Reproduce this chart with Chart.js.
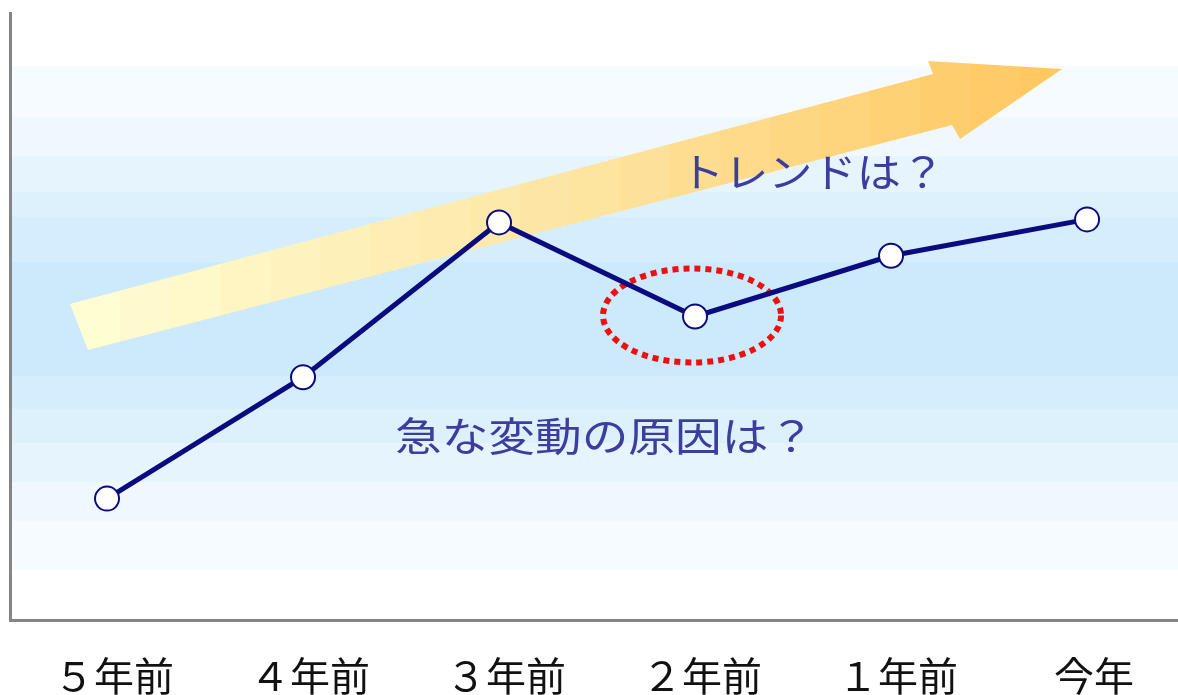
<!DOCTYPE html>
<html>
<head>
<meta charset="utf-8">
<script src="https://cdn.jsdelivr.net/npm/chart.js@4.4.0/dist/chart.umd.min.js"></script>
<style>
  html, body { margin: 0; padding: 0; background: #fff; }
  #wrap { width: 1178px; height: 695px; }
</style>
</head>
<body>
<div id="wrap"><canvas id="grafica" width="1178" height="695"></canvas></div>
<script>
// 年ごとの値
const etiquetas = ['５年前', '４年前', '３年前', '２年前', '１年前', '今年'];
const valores = [20, 40, 65.5, 50, 60, 66];
const posiciones = [0, 1, 2, 3, 4, 5];

const textoTendencia = 'トレンドは？';
const textoCambio = '急な変動の原因は？';

// fondo en franjas (de arriba hacia abajo)
const franjas = [
  [66, 117, '#f5fbff'], [117, 156, '#eef8fe'], [156, 192, '#e6f4fd'],
  [192, 217, '#ddf1fd'], [217, 262, '#d5edfc'], [262, 376, '#cdeafd'],
  [376, 409, '#d5edfc'], [409, 443, '#ddf1fd'], [443, 482, '#e6f4fd'],
  [482, 521, '#eef8fe'], [521, 570, '#f5fbff']
];

function mezcla(a, b, t) {
  const pa = [parseInt(a.substr(1, 2), 16), parseInt(a.substr(3, 2), 16), parseInt(a.substr(5, 2), 16)];
  const pb = [parseInt(b.substr(1, 2), 16), parseInt(b.substr(3, 2), 16), parseInt(b.substr(5, 2), 16)];
  const r = pa.map((v, i) => Math.round(v + (pb[i] - v) * t));
  return 'rgb(' + r.join(',') + ')';
}

const fondo = {
  id: 'fondo',
  beforeDatasetsDraw(chart) {
    const ctx = chart.ctx;
    const a = chart.chartArea;
    ctx.save();
    franjas.forEach(f => {
      ctx.fillStyle = f[2];
      ctx.fillRect(a.left + 2, f[0], a.right - a.left, f[1] - f[0]);
    });

    // flecha de tendencia
    ctx.beginPath();
    ctx.moveTo(70, 304);
    ctx.lineTo(933, 74);
    ctx.lineTo(928, 61);
    ctx.lineTo(1062, 69);
    ctx.lineTo(960, 139);
    ctx.lineTo(952, 125);
    ctx.lineTo(88, 350);
    ctx.closePath();
    ctx.clip();
    const x0 = 70, x1 = 1062, paso = 50;
    for (let x = x0; x < x1; x += paso) {
      const t = (x - x0) / (x1 - x0);
      const c = t < 0.5 ? mezcla('#fffdd2', '#fde4a0', t / 0.5) : mezcla('#fde4a0', '#ffc55a', (t - 0.5) / 0.5);
      ctx.fillStyle = c;
      ctx.fillRect(x, 40, paso + 1, 330);
    }
    ctx.restore();

    // elipse punteada alrededor de 2年前
    const xs = chart.scales.x, ys = chart.scales.y;
    const cx = xs.getPixelForValue(posiciones[3]) - 3;
    const cy = ys.getPixelForValue(valores[3]) - 1;
    ctx.save();
    ctx.strokeStyle = '#ee1010';
    ctx.lineWidth = 6;
    ctx.setLineDash([6, 5]);
    ctx.beginPath();
    ctx.ellipse(cx, cy, 89, 47, 0, 0, Math.PI * 2);
    ctx.stroke();
    ctx.restore();

    // textos
    ctx.save();
    ctx.fillStyle = '#3d3da0';
    ctx.font = '40px "Noto Sans CJK JP"';
    ctx.textBaseline = 'middle';
    [[textoTendencia, 680, 172, 265], [textoCambio, 395, 436, 420]].forEach(t => {
      const w = ctx.measureText(t[0]).width;
      ctx.save();
      ctx.translate(t[1], t[2]);
      ctx.scale(t[3] / w, 1);
      ctx.fillText(t[0], 0, 0);
      ctx.restore();
    });
    ctx.restore();
  }
};

const ctx = document.getElementById('grafica').getContext('2d');
const grafica = new Chart(ctx, {
  type: 'line',
  data: {
    datasets: [{
      data: posiciones.map((p, i) => ({ x: p, y: valores[i] })),
      borderColor: '#0b0b80',
      borderWidth: 5,
      pointRadius: 12,
      pointBorderWidth: 2,
      pointBackgroundColor: '#ffffff',
      pointBorderColor: '#0b0b80',
      tension: 0
    }]
  },
  options: {
    responsive: false,
    animation: false,
    devicePixelRatio: 1,
    layout: { autoPadding: false, padding: { left: 10, top: 13, right: 0, bottom: 0 } },
    plugins: { legend: { display: false }, tooltip: { enabled: false } },
    scales: {
      x: {
        type: 'linear',
        min: -0.495,
        max: 5.464,
        grid: { display: false, drawTicks: false },
        border: { display: true, color: '#858585', width: 3 },
        afterBuildTicks(axis) {
          axis.ticks = posiciones.map(v => ({ value: v }));
        },
        afterFit(axis) { axis.height = 75; },
        ticks: {
          autoSkip: false,
          maxRotation: 0,
          padding: 32,
          labelOffset: 7,
          color: '#111111',
          font: { family: '"Noto Sans CJK JP"', size: 40, lineHeight: 1.2 },
          callback: v => etiquetas[v]
        }
      },
      y: {
        min: 0,
        max: 100,
        grid: { display: false, drawTicks: false },
        border: { display: true, color: '#858585', width: 3 },
        afterFit(axis) { axis.width = 0; },
        ticks: { display: false }
      }
    }
  },
  plugins: [fondo]
});
</script>
</body>
</html>
